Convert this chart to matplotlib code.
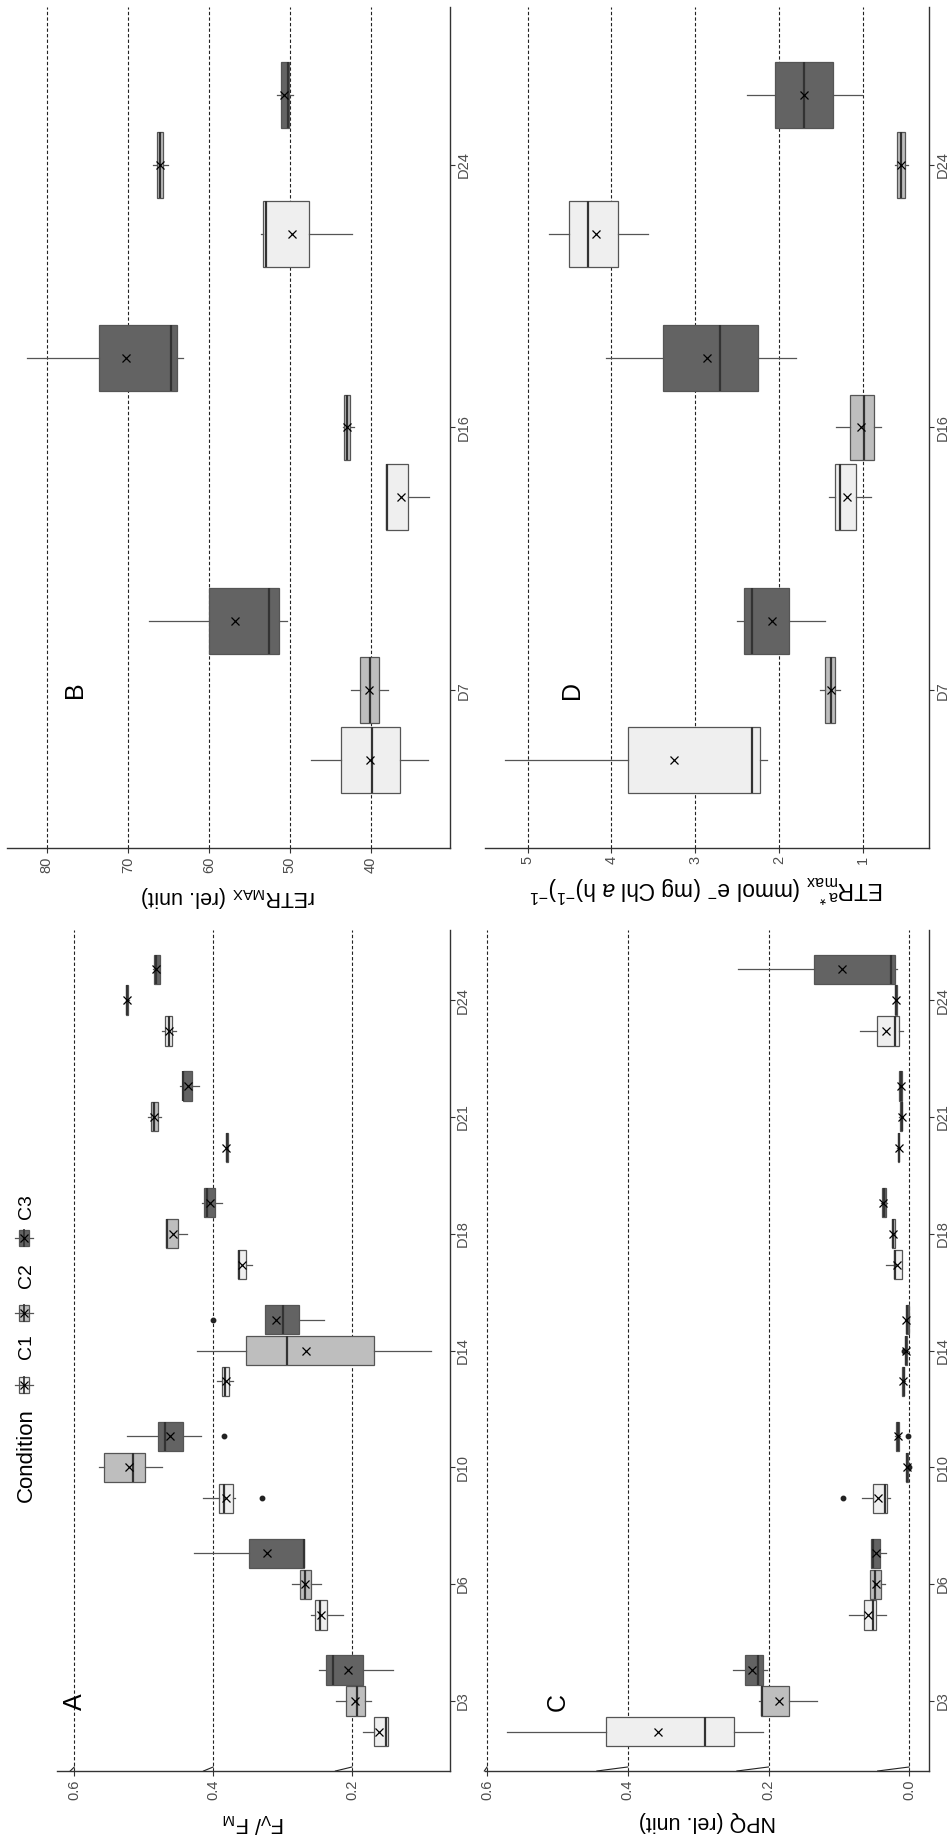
import matplotlib
matplotlib.use("Agg")
import matplotlib.pyplot as plt
from matplotlib.patches import Rectangle
from matplotlib.lines import Line2D

plt.rcParams['font.family'] = ['Liberation Sans', 'DejaVu Sans']
plt.rcParams['mathtext.fontset'] = 'custom'
plt.rcParams['mathtext.rm'] = 'Liberation Sans'
plt.rcParams['mathtext.it'] = 'Liberation Sans:italic'
plt.rcParams['mathtext.bf'] = 'Liberation Sans:bold'

# ---------------- data ----------------
CONDITIONS = ["C1", "C2", "C3"]
DAYS_AC = ["D3", "D6", "D10", "D14", "D18", "D21", "D24"]
DAYS_BD = ["D7", "D16", "D24"]

# rows: [lower whisker, Q1, median, Q3, upper whisker, mean]
A_C1 = [[0.149, 0.149, 0.151, 0.168, 0.184, 0.161],
        [0.213, 0.236, 0.246, 0.253, 0.259, 0.245],
        [0.368, 0.371, 0.384, 0.391, 0.415, 0.381],
        [0.371, 0.377, 0.383, 0.387, 0.394, 0.381],
        [0.344, 0.353, 0.363, 0.364, 0.364, 0.358],
        [0.379, 0.379, 0.380, 0.382, 0.382, 0.381],
        [0.454, 0.459, 0.464, 0.470, 0.474, 0.464]]
A_C2 = [[0.173, 0.182, 0.193, 0.209, 0.223, 0.196],
        [0.245, 0.259, 0.268, 0.275, 0.287, 0.268],
        [0.474, 0.498, 0.515, 0.557, 0.565, 0.521],
        [0.086, 0.168, 0.294, 0.353, 0.423, 0.266],
        [0.438, 0.451, 0.467, 0.468, 0.468, 0.458],
        [0.475, 0.479, 0.485, 0.490, 0.494, 0.485],
        [0.522, 0.523, 0.524, 0.525, 0.526, 0.524]]
A_C3 = [[0.141, 0.185, 0.228, 0.238, 0.248, 0.206],
        [0.269, 0.269, 0.269, 0.349, 0.427, 0.322],
        [0.418, 0.443, 0.469, 0.480, 0.524, 0.462],
        [0.240, 0.277, 0.299, 0.326, 0.326, 0.309],
        [0.387, 0.397, 0.409, 0.413, 0.416, 0.404],
        [0.420, 0.431, 0.443, 0.444, 0.448, 0.437],
        [0.476, 0.477, 0.482, 0.486, 0.487, 0.482]]
# outliers: (condition index, day index, value)
A_OUT = [(0, 2, 0.330), (2, 2, 0.384), (2, 3, 0.401)]

B_C1 = [[33.0, 36.4, 39.9, 43.7, 47.4, 40.1],
        [32.8, 35.4, 38.0, 38.1, 38.1, 36.3],
        [42.4, 47.7, 53.0, 53.3, 53.6, 49.7]]
B_C2 = [[37.9, 39.0, 40.1, 41.3, 42.5, 40.2],
        [42.1, 42.6, 42.9, 43.3, 43.4, 43.0],
        [65.1, 65.6, 66.0, 66.4, 66.9, 66.0]]
B_C3 = [[50.4, 51.4, 52.6, 60.0, 67.4, 56.8],
        [63.2, 63.9, 64.7, 73.6, 82.4, 70.2],
        [49.6, 50.1, 50.2, 51.1, 51.6, 50.7]]
B_OUT = []

C_C1 = [[0.208, 0.249, 0.290, 0.431, 0.572, 0.357],
        [0.033, 0.048, 0.051, 0.065, 0.086, 0.058],
        [0.027, 0.032, 0.035, 0.051, 0.067, 0.044],
        [0.006, 0.007, 0.008, 0.010, 0.011, 0.009],
        [0.011, 0.011, 0.021, 0.022, 0.033, 0.018],
        [0.013, 0.014, 0.015, 0.016, 0.017, 0.015],
        [0.009, 0.015, 0.021, 0.046, 0.070, 0.033]]
C_C2 = [[0.131, 0.171, 0.209, 0.211, 0.213, 0.185],
        [0.034, 0.040, 0.049, 0.056, 0.056, 0.048],
        [0.001, 0.002, 0.003, 0.004, 0.005, 0.003],
        [0.002, 0.003, 0.005, 0.006, 0.007, 0.005],
        [0.020, 0.021, 0.023, 0.024, 0.025, 0.023],
        [0.009, 0.010, 0.011, 0.013, 0.014, 0.011],
        [0.017, 0.018, 0.019, 0.020, 0.021, 0.019]]
C_C3 = [[0.202, 0.208, 0.215, 0.234, 0.251, 0.223],
        [0.033, 0.042, 0.052, 0.054, 0.054, 0.047],
        [0.013, 0.014, 0.016, 0.019, 0.020, 0.016],
        [0.000, 0.001, 0.003, 0.005, 0.006, 0.004],
        [0.032, 0.033, 0.036, 0.039, 0.040, 0.037],
        [0.010, 0.011, 0.012, 0.014, 0.015, 0.012],
        [0.017, 0.021, 0.026, 0.136, 0.244, 0.096]]
C_OUT = [(0, 2, 0.094), (1, 2, 0.001), (2, 2, 0.002), (1, 3, 0.007)]

D_C1 = [[2.14, 2.23, 2.32, 3.80, 5.27, 3.25],
        [0.90, 1.08, 1.27, 1.33, 1.40, 1.19],
        [3.57, 3.92, 4.28, 4.51, 4.75, 4.19]]
D_C2 = [[1.27, 1.33, 1.38, 1.45, 1.51, 1.38],
        [0.78, 0.87, 0.98, 1.15, 1.32, 1.02],
        [0.46, 0.50, 0.55, 0.59, 0.61, 0.54]]
D_C3 = [[1.45, 1.88, 2.32, 2.42, 2.50, 2.09],
        [1.80, 2.25, 2.70, 3.39, 4.07, 2.86],
        [1.01, 1.35, 1.70, 2.05, 2.38, 1.70]]
D_OUT = []

A_TICKS = [0.2, 0.4, 0.6]
A_TICKLABELS = ["0.2", "0.4", "0.6"]
B_TICKS = [40, 50, 60, 70, 80]
B_TICKLABELS = ["40", "50", "60", "70", "80"]
C_TICKS = [0.0, 0.2, 0.4, 0.6]
C_TICKLABELS = ["0.0", "0.2", "0.4", "0.6"]
D_TICKS = [1, 2, 3, 4, 5]
D_TICKLABELS = ["1", "2", "3", "4", "5"]

# ---------------- style ----------------
FILLS = ["#EFEFEF", "#BEBEBE", "#636363"]
EDGE = "#555555"
TICKCOL = "#4D4D4D"
W, H = 949, 1836

fig = plt.figure(figsize=(W / 100, H / 100), dpi=100)


def rect_px(x0, y0, x1, y1):
    return [x0 / W, 1 - y1 / H, (x1 - x0) / W, (y1 - y0) / H]


def draw_panel(rect, days, series, outliers, vlim, ticks, ticklabels, label,
               letter, letter_xy, breaks=None, labelpad=8, labelsize=15.5):
    ax = fig.add_axes(rect)
    ax.set_axisbelow(True)
    offsets = [-0.265, 0.0, 0.265]
    for ci, rows in enumerate(series):
        stats = []
        for di, r in enumerate(rows):
            fl = [v for (c, d, v) in outliers if c == ci and d == di]
            stats.append(dict(whislo=r[0], q1=r[1], med=r[2], q3=r[3],
                              whishi=r[4], mean=r[5], fliers=fl))
        pos = [i + offsets[ci] for i in range(len(days))]
        ax.bxp(stats, positions=pos, widths=0.25, orientation='horizontal',
               patch_artist=True, showmeans=True, showcaps=False,
               manage_ticks=False,
               boxprops=dict(facecolor=FILLS[ci], edgecolor=EDGE, linewidth=0.9),
               whiskerprops=dict(color=EDGE, linewidth=0.9),
               medianprops=dict(color="#333333", linewidth=1.6),
               meanprops=dict(marker='x', markeredgecolor='black',
                              markerfacecolor='black', markersize=5.5,
                              markeredgewidth=0.9),
               flierprops=dict(marker='o', markerfacecolor='#222222',
                               markeredgecolor='#222222', markersize=3.2))
    n = len(days)
    ax.set_xlim(vlim)
    ax.set_ylim(-0.6, n - 1 + 0.6)
    ax.set_xticks(ticks)
    ax.set_xticklabels(ticklabels, rotation=90, color=TICKCOL, fontsize=10.5)
    ax.yaxis.tick_right()
    ax.set_yticks(range(n))
    ax.set_yticklabels(days, rotation=90, va='center', color=TICKCOL,
                       fontsize=10.5)
    ax.tick_params(axis='x', direction='out', length=3.5, width=0.8,
                   color='#333333', pad=2.5)
    ax.tick_params(axis='y', direction='out', length=3.5, width=0.8,
                   color='#333333', pad=1.0)
    for s in ('left', 'top'):
        ax.spines[s].set_visible(False)
    for s in ('right', 'bottom'):
        ax.spines[s].set_color('#333333')
        ax.spines[s].set_linewidth(1.0)
    ax.grid(axis='x', linestyle=(0, (3, 2)), color='#222222', linewidth=0.8)
    ax.set_xlabel(label, rotation=180, fontsize=labelsize, labelpad=labelpad)
    ax.text(letter_xy[0], letter_xy[1], letter, transform=ax.transAxes,
            rotation=90, fontsize=18, ha='center', va='center')
    if breaks:
        tr = ax.get_xaxis_transform()
        for t, dv in breaks:
            ax.add_line(Line2D([t, t + dv], [0.0048, 0.0], transform=tr,
                               color='#222222', linewidth=0.8, clip_on=False))
    return ax


axA = draw_panel(rect_px(57, 930, 450, 1771), DAYS_AC, [A_C1, A_C2, A_C3], A_OUT,
                 (0.625, 0.059), A_TICKS, A_TICKLABELS,
                 r"F$_\mathrm{V}$/ F$_\mathrm{M}$", "A", (0.046, 0.082),
                 breaks=[(0.6, 0.006), (0.4, 0.014), (0.2, 0.024)])
axB = draw_panel(rect_px(7, 7, 450, 848), DAYS_BD, [B_C1, B_C2, B_C3], B_OUT,
                 (84.9, 30.25), B_TICKS, B_TICKLABELS,
                 r"rETR$_\mathrm{MAX}$ (rel. unit)", "B", (0.153, 0.188))
axC = draw_panel(rect_px(485, 930, 929, 1771), DAYS_AC, [C_C1, C_C2, C_C3], C_OUT,
                 (0.603, -0.028), C_TICKS, C_TICKLABELS,
                 "NPQ (rel. unit)", "C", (0.164, 0.082),
                 breaks=[(0.6, 0.004), (0.4, 0.044), (0.2, 0.045), (0.0, 0.045)])
axD = draw_panel(rect_px(485, 7, 929, 848), DAYS_BD, [D_C1, D_C2, D_C3], D_OUT,
                 (5.51, 0.21), D_TICKS, D_TICKLABELS,
                 r"ETR$^{\mathrm{a*}}_{\mathrm{max}}$ (mmol e$^{\mathrm{-}}$ (mg Chl $a$ h)$^{-1}$)$^{-1}$",
                 "D", (0.196, 0.188), labelsize=16.5, labelpad=6)

# ---------------- legend (drawn rotated) ----------------
def fx(x):
    return x / W


def fy(y):
    return 1 - y / H


fig.text(fx(26), fy(1455), "Condition", rotation=90, fontsize=16,
         ha='center', va='center')
LEG_ICON_Y = [1385, 1313, 1238]
LEG_TEXT_Y = [1347, 1276, 1207]
for ci, cname in enumerate(CONDITIONS):
    yc = LEG_ICON_Y[ci]
    fig.add_artist(Line2D([fx(15), fx(33)], [fy(yc), fy(yc)], color=EDGE,
                          linewidth=0.9, transform=fig.transFigure))
    fig.add_artist(Rectangle((fx(19), fy(yc + 8)), fx(29) - fx(19),
                             fy(yc - 8) - fy(yc + 8), facecolor=FILLS[ci],
                             edgecolor=EDGE, linewidth=0.9,
                             transform=fig.transFigure))
    fig.add_artist(Line2D([fx(24), fx(24)], [fy(yc - 8), fy(yc + 8)],
                          color="#333333", linewidth=1.3,
                          transform=fig.transFigure))
    fig.add_artist(Line2D([fx(24)], [fy(yc)], marker='x', color='black',
                          markersize=5.5, markeredgewidth=0.9,
                          transform=fig.transFigure))
    fig.text(fx(26), fy(LEG_TEXT_Y[ci]), cname, rotation=90, fontsize=14,
             ha='center', va='center')

fig.savefig("out.png", dpi=100)
